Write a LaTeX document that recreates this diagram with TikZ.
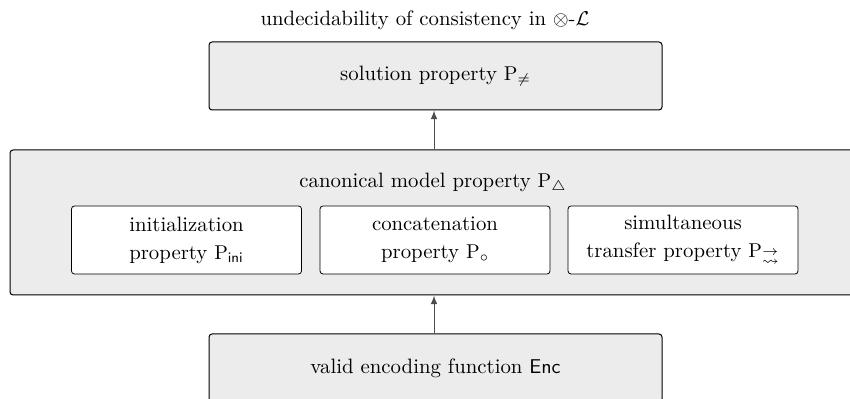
\documentclass[tikz,border=0pt]{standalone}
\usepackage{amsmath, amssymb, tikz}

\begin{document}
\begin{tikzpicture}[x = 0.5pt, y = -0.5pt, font = \fontsize{10.4}{14}\selectfont,
		box/.style = {draw, fill = gray!15, rounded corners = 1.5pt, line width = 0.5pt, align = center, inner sep = 0pt},
		subbox/.style = {draw, fill = white, rounded corners = 1.5pt, line width = 0.4pt, align = center, inner sep = 0pt, minimum width = 115pt, minimum height = 34pt},
		implies/.style = {-latex, gray!60!black, line width = 0.5pt}]
			\clip (0, 0) rectangle (850, 399);
			\node (title) at (425, 20) {undecidability of consistency in $\otimes$-$\mathcal{L}$};
			\node[box, minimum width = 226.5pt, minimum height = 34pt] (solution) at (435.5, 76) {solution property $\mathrm{P}_{\neq}$};
			\node[box, minimum width = 425pt, minimum height = 72.5pt] (canonical) at (435, 222.5) {};
			\node (canonicallabel) at (433, 183) {canonical model property $\mathrm{P}_{\triangle}$};
			\node[subbox] (ini) at (186.5, 240) {initialization\\property $\mathrm{P}_{\mathsf{ini}}$};
			\node[subbox] (concat) at (435, 240) {concatenation\\property $\mathrm{P}_{\circ}$};
			\node[subbox] (transfer) at (683, 240) {simultaneous\\transfer property $\mathrm{P}_{\substack{\rightarrow\\[-1pt]\rightsquigarrow}}$};
			\node[box, minimum width = 226.5pt, minimum height = 34pt] (enc) at (435.5, 368) {valid encoding function $\mathsf{Enc}$};
			\draw[implies] (canonical.north -| 434, 0) -- (solution.south -| 434, 0);
			\draw[implies] (enc.north -| 434, 0) -- (canonical.south -| 434, 0);
		\end{tikzpicture}
\end{document}
